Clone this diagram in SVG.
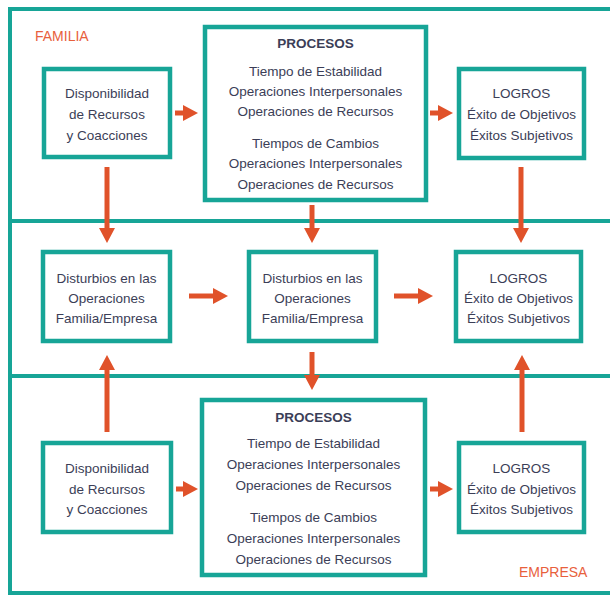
<svg xmlns="http://www.w3.org/2000/svg" width="610" height="596" viewBox="0 0 610 596">
<defs>
<style>
.frame{fill:none;stroke:#17a597;stroke-width:4}
.box{fill:#fff;stroke:#17a597;stroke-width:4.5}
.t{font-family:"Liberation Sans",Arial,sans-serif;font-size:13.5px;fill:#3b3e57;text-anchor:middle}
.b{font-weight:bold}
.lab{font-family:"Liberation Sans",Arial,sans-serif;font-size:14px;fill:#e8603c}
.arr{fill:none;stroke:#e0522a;stroke-width:5;marker-end:url(#ah)}
</style>
<marker id="ah" markerUnits="userSpaceOnUse" markerWidth="16" markerHeight="16" refX="4" refY="8" orient="auto">
<path d="M0,0 L15,8 L0,16 z" fill="#e0522a"/>
</marker>
</defs>
<rect width="610" height="596" fill="#fff"/>
<g id="frame">
<path class="frame" d="M610,9 H10 V593 H610"/>
<path class="frame" d="M10,221 H610 M10,376 H610"/>
<text class="lab" x="35" y="41">FAMILIA</text>
<text class="lab" x="519" y="577">EMPRESA</text>
</g>
<g id="connectors">
<path class="arr" d="M175,113 H187"/>
<path class="arr" d="M430,113 H442"/>
<path class="arr" d="M107,167 V232"/>
<path class="arr" d="M312,205 V232"/>
<path class="arr" d="M521,167 V232"/>
<path class="arr" d="M189,296 H217"/>
<path class="arr" d="M394,296 H422"/>
<path class="arr" d="M312,352 V379"/>
<path class="arr" d="M107,432 V366"/>
<path class="arr" d="M522,432 V366"/>
<path class="arr" d="M176,489 H187"/>
<path class="arr" d="M430,489 H442"/>
</g>
<g id="disp-familia">
<rect class="box" x="44" y="69" width="126" height="88"/>
<text class="t" x="107" y="98">Disponibilidad</text>
<text class="t" x="107" y="119">de Recursos</text>
<text class="t" x="107" y="140">y Coacciones</text>
</g>
<g id="procesos-familia">
<rect class="box" x="205" y="27" width="221" height="173"/>
<text class="t b" x="315.5" y="48">PROCESOS</text>
<text class="t" x="315.5" y="76">Tiempo de Estabilidad</text>
<text class="t" x="315.5" y="96">Operaciones Interpersonales</text>
<text class="t" x="315.5" y="116">Operaciones de Recursos</text>
<text class="t" x="315.5" y="148">Tiempos de Cambios</text>
<text class="t" x="315.5" y="168">Operaciones Interpersonales</text>
<text class="t" x="315.5" y="189">Operaciones de Recursos</text>
</g>
<g id="logros-familia">
<rect class="box" x="459" y="69" width="125" height="89"/>
<text class="t" x="521.5" y="98">LOGROS</text>
<text class="t" x="521.5" y="119">Éxito de Objetivos</text>
<text class="t" x="521.5" y="140">Éxitos Subjetivos</text>
</g>
<g id="disturbios-1">
<rect class="box" x="43" y="252" width="127" height="89"/>
<text class="t" x="106.5" y="283">Disturbios en las</text>
<text class="t" x="106.5" y="303">Operaciones</text>
<text class="t" x="106.5" y="323">Familia/Empresa</text>
</g>
<g id="disturbios-2">
<rect class="box" x="249" y="252" width="127" height="89"/>
<text class="t" x="312.5" y="283">Disturbios en las</text>
<text class="t" x="312.5" y="303">Operaciones</text>
<text class="t" x="312.5" y="323">Familia/Empresa</text>
</g>
<g id="logros-centro">
<rect class="box" x="456" y="252" width="125" height="89"/>
<text class="t" x="518.5" y="283">LOGROS</text>
<text class="t" x="518.5" y="303">Éxito de Objetivos</text>
<text class="t" x="518.5" y="323">Éxitos Subjetivos</text>
</g>
<g id="disp-empresa">
<rect class="box" x="43" y="443" width="128" height="89"/>
<text class="t" x="107" y="473">Disponibilidad</text>
<text class="t" x="107" y="494">de Recursos</text>
<text class="t" x="107" y="514">y Coacciones</text>
</g>
<g id="procesos-empresa">
<rect class="box" x="202" y="400" width="223" height="175"/>
<text class="t b" x="313.5" y="422">PROCESOS</text>
<text class="t" x="313.5" y="448">Tiempo de Estabilidad</text>
<text class="t" x="313.5" y="469">Operaciones Interpersonales</text>
<text class="t" x="313.5" y="490">Operaciones de Recursos</text>
<text class="t" x="313.5" y="522">Tiempos de Cambios</text>
<text class="t" x="313.5" y="543">Operaciones Interpersonales</text>
<text class="t" x="313.5" y="564">Operaciones de Recursos</text>
</g>
<g id="logros-empresa">
<rect class="box" x="459" y="443" width="125" height="89"/>
<text class="t" x="521.5" y="473">LOGROS</text>
<text class="t" x="521.5" y="494">Éxito de Objetivos</text>
<text class="t" x="521.5" y="514">Éxitos Subjetivos</text>
</g>
</svg>
